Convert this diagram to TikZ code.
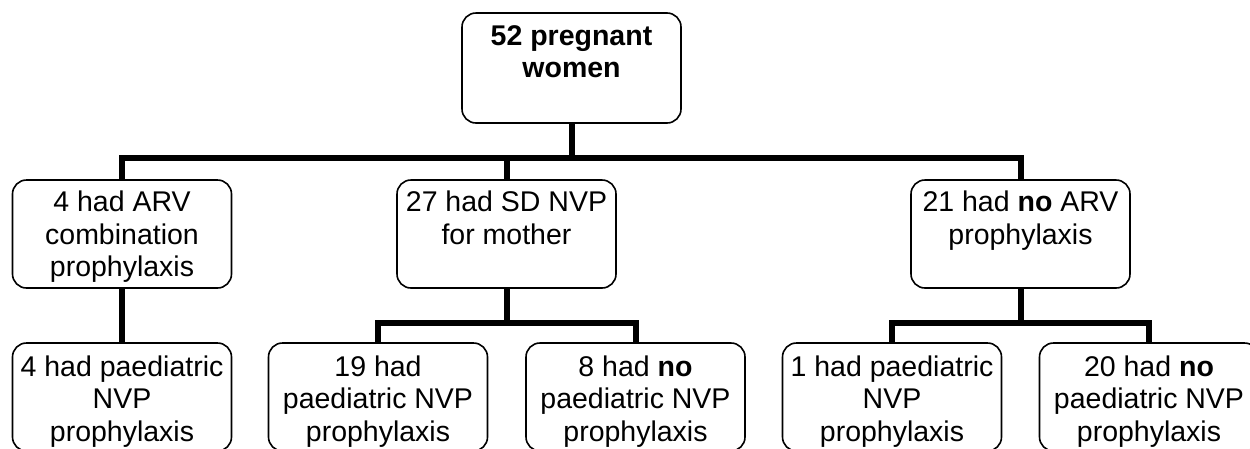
\documentclass[tikz,border=0pt]{standalone}
\usepackage{fontspec}
\setmainfont{Liberation Sans}
\begin{document}
\begin{tikzpicture}[x=1pt,y=-1pt,
  box/.style={draw,rounded corners=14pt,line width=1.6pt,inner sep=0pt,fill=white},
  conn/.style={line width=6pt,line cap=butt,line join=miter}]
\useasboundingbox (0,0) rectangle (1250,448);
\clip (0,0) rectangle (1250,448);
\newcommand{\boxtext}[3]{\parbox[t][#1pt][t]{219pt}{\centering\fontsize{28.5}{32.5}\selectfont\rule{0pt}{#2pt}#3}}
\node[box] (top) at (571.5,68) {\boxtext{110}{32}{\bfseries 52 pregnant\\women}};
\node[box] (L1) at (122,234) {\boxtext{108}{31.5}{4 had ARV\\combination\\prophylaxis}};
\node[box] (M1) at (506.5,234) {\boxtext{108}{31.5}{27 had SD NVP\\for mother}};
\node[box] (R1) at (1020.5,234) {\boxtext{108}{31.5}{21 had \textbf{no} ARV\\prophylaxis}};
\node[box] (B1) at (122,397) {\boxtext{108}{33}{4 had paediatric\\NVP\\prophylaxis}};
\node[box] (B2) at (378,397) {\boxtext{108}{33}{19 had\\paediatric NVP\\prophylaxis}};
\node[box] (B3) at (635.5,397) {\boxtext{108}{33}{8 had \textbf{no}\\paediatric NVP\\prophylaxis}};
\node[box] (B4) at (892,397) {\boxtext{108}{33}{1 had paediatric\\NVP\\prophylaxis}};
\node[box] (B5) at (1149,397) {\boxtext{108}{33}{20 had \textbf{no}\\paediatric NVP\\prophylaxis}};
\coordinate (bar) at (0,158);
\coordinate (lbar) at (0,323);
\draw[conn] (top.south) -- (top.south |- bar);
\draw[conn] (L1.north) |- (R1.north |- bar) -- (R1.north);
\draw[conn] (M1.north) -- (M1.north |- bar);
\draw[conn] (L1.south) -- (B1.north);
\draw[conn] (M1.south) -- (M1.south |- lbar);
\draw[conn] (B2.north) |- (B3.north |- lbar) -- (B3.north);
\draw[conn] (R1.south) -- (R1.south |- lbar);
\draw[conn] (B4.north) |- (B5.north |- lbar) -- (B5.north);
\end{tikzpicture}
\end{document}
